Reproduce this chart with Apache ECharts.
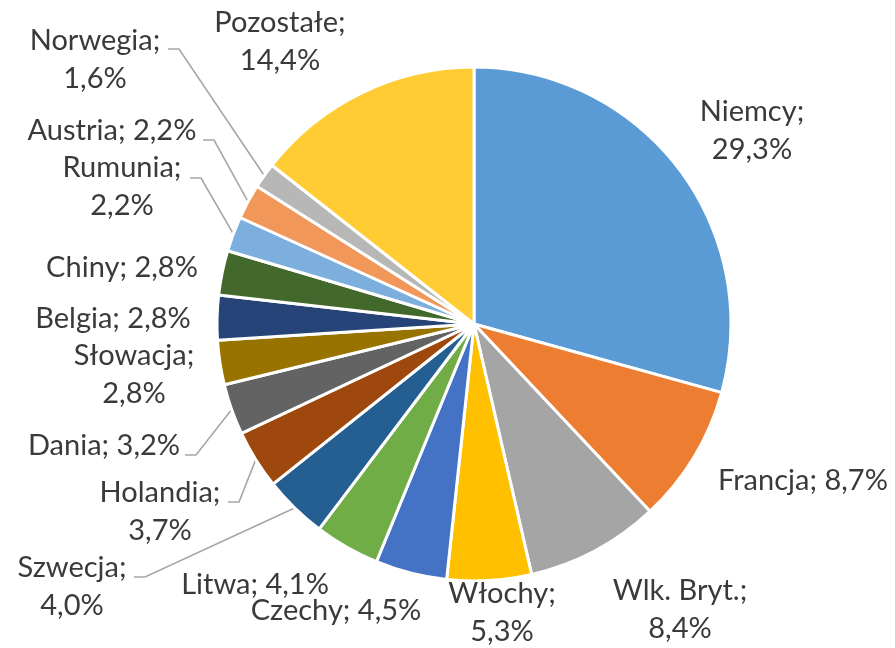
<!DOCTYPE html>
<html>
<head>
<meta charset="utf-8">
<script src="https://cdn.jsdelivr.net/npm/echarts@6/dist/echarts.min.js"></script>
<style>
  html, body { margin: 0; padding: 0; background: #fff; }
  #chart { width: 895px; height: 648px; }
</style>
</head>
<body>
<div id="chart"></div>
<script>
  // udział krajów (%)
  var countries = ['Niemcy', 'Francja', 'Wlk. Bryt.', 'Włochy', 'Czechy', 'Litwa', 'Szwecja', 'Holandia',
    'Dania', 'Słowacja', 'Belgia', 'Chiny', 'Rumunia', 'Austria', 'Norwegia', 'Pozostałe']
  var shares = [29.3, 8.7, 8.4, 5.3, 4.5, 4.1, 4.0, 3.7, 3.2, 2.8, 2.8, 2.8, 2.2, 2.2, 1.6, 14.4]

  var sliceColors = ['#5B9BD5', '#ED7D31', '#A5A5A5', '#FFC000', '#4472C4', '#70AD47', '#255E91', '#9E480E',
    '#636363', '#997300', '#264478', '#43682B', '#7CAFDD', '#F1975A', '#B7B7B7', '#FFCD33']

  // where each label sits (centre of text block), whether it wraps, and leader start
  var labelSpots = {
    'Niemcy': { x: 752, y: 131, wrap: true },
    'Francja': { x: 803, y: 481, wrap: false },
    'Wlk. Bryt.': { x: 680, y: 610, wrap: true },
    'Włochy': { x: 502, y: 613, wrap: true },
    'Czechy': { x: 336, y: 611, wrap: false },
    'Litwa': { x: 255, y: 585, wrap: false },
    'Szwecja': { x: 72, y: 587, wrap: true, lead: [134, 577] },
    'Holandia': { x: 160, y: 512, wrap: true, lead: [228, 502] },
    'Dania': { x: 104, y: 446, wrap: false, lead: [185, 455] },
    'Słowacja': { x: 134, y: 375, wrap: true },
    'Belgia': { x: 113, y: 319, wrap: false },
    'Chiny': { x: 122, y: 268, wrap: false },
    'Rumunia': { x: 122, y: 187, wrap: true, lead: [190, 178] },
    'Austria': { x: 112, y: 131, wrap: false, lead: [203, 140] },
    'Norwegia': { x: 95, y: 60, wrap: true, lead: [168, 49] },
    'Pozostałe': { x: 280, y: 42, wrap: true }
  }

  var pieData = countries.map(function (name, i) {
    var item = { name: name, value: shares[i], itemStyle: { color: sliceColors[i] } }
    if (labelSpots[name].lead) {
      item.labelLine = { show: true }
    }
    return item
  })

  var chart = echarts.init(document.getElementById('chart'))

  var option = {
    animation: false,
    backgroundColor: '#fff',
    series: [
      {
        type: 'pie',
        center: [474, 324],
        radius: 257,
        startAngle: 90,
        clockwise: true,
        avoidLabelOverlap: false,
        data: pieData,
        itemStyle: {
          borderColor: '#fff',
          borderWidth: 3
        },
        label: {
          show: true,
          position: 'outside',
          fontFamily: 'Lato',
          fontSize: 29,
          lineHeight: 38,
          color: '#3a3a3a',
          formatter: function (p) {
            var spot = labelSpots[p.name]
            var pct = p.value.toFixed(1).replace('.', ',') + '%'
            return p.name + ';' + (spot.wrap ? '\n' : ' ') + pct
          }
        },
        labelLine: {
          show: false,
          lineStyle: { color: '#A6A6A6', width: 1.6 }
        },
        labelLayout: function (params) {
          var name = countries[params.dataIndex]
          var spot = labelSpots[name]
          var res = { x: spot.x, y: spot.y, align: 'center', verticalAlign: 'middle' }
          if (spot.lead && params.labelLinePoints) {
            var edge = params.labelLinePoints[0]
            res.labelLinePoints = [
              [edge[0], edge[1]],
              [spot.lead[0] + 11, spot.lead[1]],
              [spot.lead[0], spot.lead[1]]
            ]
          }
          return res
        }
      }
    ]
  }

  chart.setOption(option)
</script>
</body>
</html>
